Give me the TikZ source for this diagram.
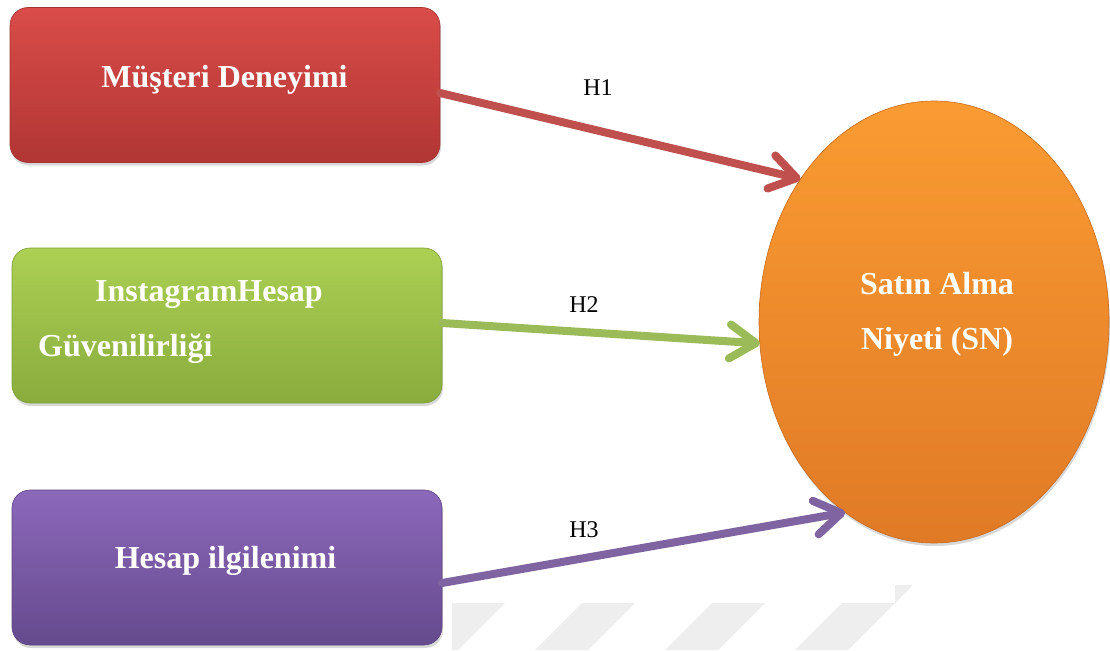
\documentclass[tikz,border=0pt]{standalone}
\usepackage{fontspec}
\setmainfont{Liberation Serif}
\usetikzlibrary{arrows.meta,shapes.geometric,shadows,calc}
\definecolor{redT}{HTML}{D94C49}
\definecolor{redB}{HTML}{B13634}
\definecolor{redD}{HTML}{A33230}
\definecolor{greenT}{HTML}{ABD053}
\definecolor{greenB}{HTML}{89AC3D}
\definecolor{greenD}{HTML}{7E9E38}
\definecolor{purpT}{HTML}{8C68BB}
\definecolor{purpB}{HTML}{654A8D}
\definecolor{purpD}{HTML}{5C4381}
\definecolor{oraT}{HTML}{FA9B32}
\definecolor{oraB}{HTML}{E07A26}
\definecolor{oraD}{HTML}{C86B20}
\definecolor{redA}{HTML}{C0504D}
\definecolor{greenA}{HTML}{9BBB59}
\definecolor{purpA}{HTML}{8064A2}
\definecolor{wmgray}{HTML}{EEEEEE}
\begin{document}
\begin{tikzpicture}[x=1pt,y=-1pt,
  box/.style={rounded corners=18pt, minimum width=430pt, minimum height=155pt,
    inner sep=0pt, outer sep=0pt, line width=0.6pt,
    drop shadow={opacity=0.3,shadow xshift=1pt,shadow yshift=-3pt}},
  boxtext/.style={text=white, font=\fontsize{32}{38}\selectfont\bfseries,
    inner sep=0pt, anchor=base},
  hlab/.style={font=\fontsize{24}{28}\selectfont, inner sep=0pt, anchor=base},
  conn/.style={line width=8pt, line cap=round,
    -{Straight Barb[length=26pt,width=34pt,round]}}
]
\useasboundingbox (0,0) rectangle (1110,650);
\fill[white] (0,0) rectangle (1110,650);

% faint watermark stripes
\begin{scope}
  \clip (452,603) rectangle (895,650) (895,585) rectangle (960,650);
  \foreach \a in {452,582,712,842}
    \fill[wmgray] (\a+18,585) -- (\a+71,585) -- (\a+6,650) -- (\a-47,650) -- cycle;
\end{scope}

% boxes
\node[box, top color=redT, bottom color=redB, draw=redD] (r) at (225,85) {};
\node[box, top color=greenT, bottom color=greenB, draw=greenD] (g) at (227,325.5) {};
\node[box, top color=purpT, bottom color=purpB, draw=purpD] (p) at (227,567.5) {};

% ellipse
\node[ellipse, minimum width=350pt, minimum height=442pt, inner sep=0pt, outer sep=0pt,
  top color=oraT, bottom color=oraB, draw=oraD, line width=0.6pt,
  drop shadow={opacity=0.3,shadow xshift=1pt,shadow yshift=-3pt}] (sn) at (934,322) {};

% texts
\node[boxtext] (t1) at (224.5,88) {Müşteri Deneyimi};
\node[boxtext, anchor=base west] (t2a) at (95,301) {InstagramHesap};
\node[boxtext, anchor=base west] (t2b) at (38,356) {Güvenilirliği};
\node[boxtext] (t3) at (225.5,568) {Hesap ilgilenimi};
\node[boxtext] (t4a) at (937,294) {Satın Alma};
\node[boxtext] (t4b) at (937,349) {Niyeti (SN)};

% connectors
\draw[conn, redA] ($(r.east)+(0,8)$) -- (sn.133.8);
\draw[conn, greenA] ($(g.east)+(0,-2.5)$) -- (sn.187);
\draw[conn, purpA] ($(p.east)+(0,15.5)$) -- (sn.245.5);

% labels
\node[hlab] (h1) at (598,96) {H1};
\node[hlab] (h2) at (584,312) {H2};
\node[hlab] (h3) at (584,537) {H3};
\end{tikzpicture}
\end{document}
